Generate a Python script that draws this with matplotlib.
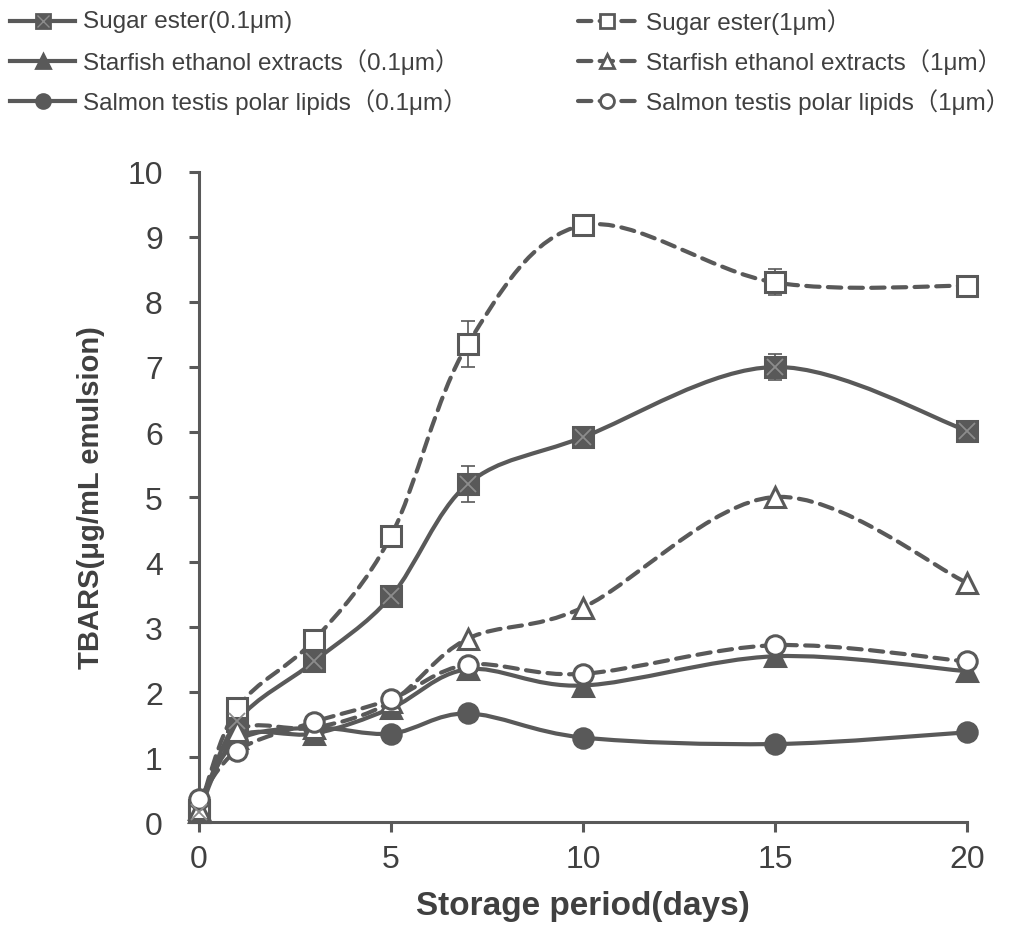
import numpy as np
import matplotlib
matplotlib.use("Agg")
import matplotlib.pyplot as plt
from matplotlib.path import Path
from matplotlib.patches import PathPatch
from matplotlib.lines import Line2D

plt.rcParams['font.family'] = ['Liberation Sans', 'Noto Sans CJK JP', 'DejaVu Sans']

# Storage days
days = [0, 1, 3, 5, 7, 10, 15, 20]

# TBARS values (ug/mL emulsion)
sugar_01 = [0.15, 1.55, 2.47, 3.47, 5.20, 5.92, 7.00, 6.02]
sugar_01_err = [0, 0, 0, 0, 0.28, 0.08, 0.20, 0]
starfish_01 = [0.15, 1.30, 1.36, 1.75, 2.35, 2.10, 2.55, 2.32]
salmon_01 = [0.28, 1.25, 1.45, 1.36, 1.67, 1.30, 1.20, 1.38]

sugar_1 = [0.18, 1.75, 2.80, 4.40, 7.35, 9.18, 8.30, 8.25]
sugar_1_err = [0, 0, 0, 0.12, 0.35, 0.05, 0.20, 0]
starfish_1 = [0.20, 1.40, 1.45, 1.85, 2.82, 3.30, 5.00, 3.68]
salmon_1 = [0.35, 1.10, 1.54, 1.89, 2.42, 2.28, 2.72, 2.47]

labels_01 = ["Sugar ester(0.1μm)",
             "Starfish ethanol extracts（0.1μm）",
             "Salmon testis polar lipids（0.1μm）"]
labels_1 = ["Sugar ester(1μm）",
            "Starfish ethanol extracts（1μm）",
            "Salmon testis polar lipids（1μm）"]

gray = '#595959'
text_gray = '#404040'
lw = 3.0
dash = (0, (3.2, 2.0))
W, H = 1015, 928


def smooth_path(x, y):
    # Excel-like smoothed line: cubic bezier with neighbour based control points
    x = np.asarray(x, float)
    y = np.asarray(y, float)
    pts = np.column_stack([x, y])
    n = len(pts)
    verts = [pts[0]]
    codes = [Path.MOVETO]
    for i in range(n - 1):
        p0 = pts[max(i - 1, 0)]
        p1 = pts[i]
        p2 = pts[i + 1]
        p3 = pts[min(i + 2, n - 1)]
        c1 = p1 + (p2 - p0) / 6.0
        c2 = p2 - (p3 - p1) / 6.0
        verts += [c1, c2, p2]
        codes += [Path.CURVE4] * 3
    return Path(verts, codes)


fig = plt.figure(figsize=(W / 100, H / 100), dpi=100)
ax = fig.add_axes([0.196, 0.1131, 0.7567, 0.7005])

series = [
    (sugar_01, '-', 's', gray, sugar_01_err),
    (starfish_01, '-', '^', gray, None),
    (salmon_01, '-', 'o', gray, None),
    (sugar_1, dash, 's', 'white', sugar_1_err),
    (starfish_1, dash, '^', 'white', None),
    (salmon_1, dash, 'o', 'white', None),
]

for vals, ls, mk, face, err in series:
    patch = PathPatch(smooth_path(days, vals), facecolor='none', edgecolor=gray,
                      lw=lw, linestyle=ls, capstyle='round', zorder=2)
    ax.add_patch(patch)
    if err is not None:
        ax.errorbar(days, vals, yerr=err, fmt='none', ecolor=gray, elinewidth=1.2,
                    capsize=5, capthick=1.2, zorder=3)
    ax.plot(days, vals, linestyle='none', marker=mk, markersize=14,
            markerfacecolor=face, markeredgecolor=gray, markeredgewidth=2.2,
            clip_on=False, zorder=4)
    if mk == 's' and face != 'white':
        ax.plot(days, vals, linestyle='none', marker='x', markersize=11,
                markeredgecolor='#8c8c8c', markeredgewidth=1.3, clip_on=False, zorder=5)

ax.set_xlim(0, 20)
ax.set_ylim(0, 10)
ax.set_xticks([0, 5, 10, 15, 20])
ax.set_yticks(range(0, 11))

for side in ['top', 'right']:
    ax.spines[side].set_visible(False)
for side in ['left', 'bottom']:
    ax.spines[side].set_color(gray)
    ax.spines[side].set_linewidth(2.2)

ax.tick_params(axis='both', colors=gray, length=7, width=2.2, labelsize=23,
               labelcolor=text_gray)
ax.tick_params(axis='y', pad=19)
ax.tick_params(axis='x', pad=9)

ax.set_xlabel("Storage period(days)", fontsize=24, fontweight='bold', color=text_gray,
              labelpad=11)
ax.set_ylabel("TBARS(μg/mL emulsion)", fontsize=21, fontweight='bold', color=text_gray,
              labelpad=16)

# legend drawn by hand in figure pixels, two columns of three rows
rows_y = [22, 62, 102]
columns = [(10, 75, 83, series[:3], labels_01), (578, 636, 646, series[3:], labels_1)]
for x0, x1, xt, ser, labs in columns:
    for yy, (vals, ls, mk, face, err), lab in zip(rows_y, ser, labs):
        fy = 1 - yy / H
        fig.add_artist(Line2D([x0 / W, x1 / W], [fy, fy], transform=fig.transFigure,
                              color=gray, lw=lw, linestyle=ls, dash_capstyle='round'))
        xm = (x0 + x1) / 2 / W
        fig.add_artist(Line2D([xm], [fy], transform=fig.transFigure, linestyle='none',
                              marker=mk, markersize=10, markerfacecolor=face,
                              markeredgecolor=gray, markeredgewidth=2.0))
        if mk == 's' and face != 'white':
            fig.add_artist(Line2D([xm], [fy], transform=fig.transFigure, linestyle='none',
                                  marker='x', markersize=8, markeredgecolor='#8c8c8c',
                                  markeredgewidth=1.0))
        fig.text(xt / W, fy, lab, fontsize=17.5, color=text_gray, ha='left', va='center')

fig.savefig("out.png", dpi=100)
